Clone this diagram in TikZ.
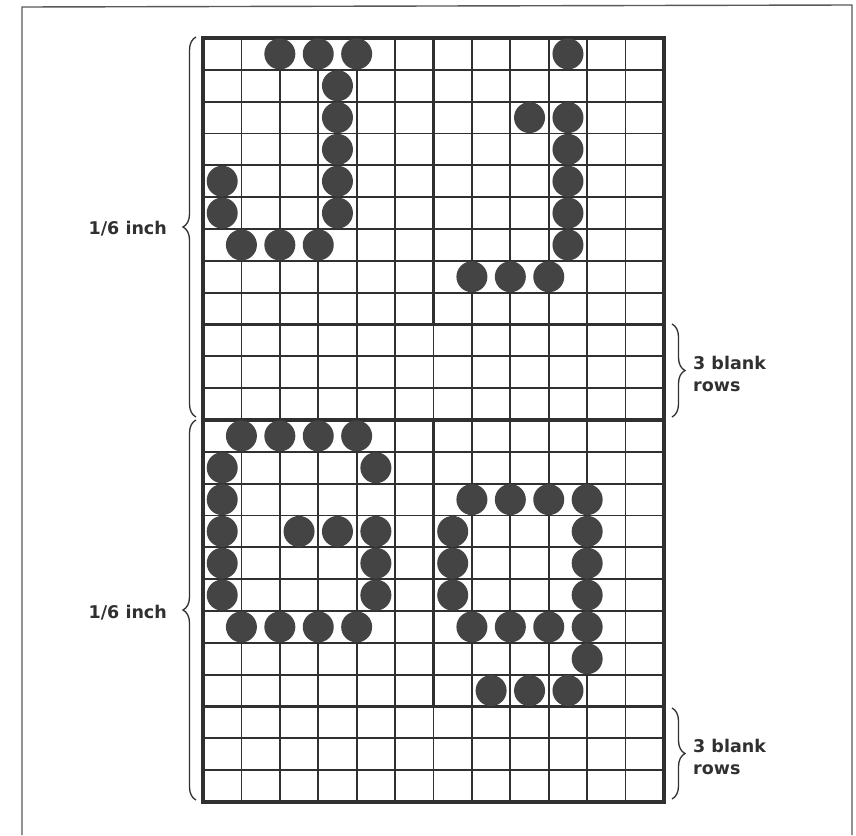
\documentclass[tikz,border=0pt]{standalone}
\usepackage{fontspec}
\setmainfont{DejaVu Sans}
\usetikzlibrary{decorations.pathreplacing}
\definecolor{ink}{HTML}{303030}
\definecolor{dotc}{HTML}{444444}
\tikzset{
  thinline/.style={draw=ink, line width=1.7pt},
  thickline/.style={draw=ink, line width=3.4pt},
  framel/.style={draw=ink!80, line width=1.4pt},
  bracel/.style={draw=ink, line width=1.3pt, decorate, decoration={brace, amplitude=13pt}},
  lab/.style={font=\bfseries\fontsize{17.5}{22}\selectfont, text=ink, inner sep=0pt, align=left},
  dotn/.style={circle, fill=dotc, minimum size=31pt, inner sep=0pt, draw=none}
}
\begin{document}
\begin{tikzpicture}[x=1pt,y=-1pt]
\useasboundingbox (0,0) rectangle (856,835);
\fill[white] (0,0) rectangle (856,835);
% outer frame of the page figure
\draw[framel] (22,835) -- (22,7) -- (852,5) -- (852,835);
% grid geometry
\def\gx{203}\def\gy{38}\def\cw{38.4167}\def\rh{31.8333}
% thin lines
\foreach \i in {1,...,11} \draw[thinline] ({\gx+\i*\cw},\gy) -- ({\gx+\i*\cw},802);
\foreach \j in {1,...,23} \draw[thinline] (\gx,{\gy+\j*\rh}) -- (664,{\gy+\j*\rh});
% thick lines
\foreach \j in {9,12,21} \draw[thickline] (\gx,{\gy+\j*\rh}) -- (664,{\gy+\j*\rh});
\draw[thickline] ({\gx+6*\cw},\gy) -- ({\gx+6*\cw},{\gy+9*\rh});
\draw[thickline] ({\gx+6*\cw},{\gy+12*\rh}) -- ({\gx+6*\cw},{\gy+21*\rh});
\draw[thickline] (\gx,\gy) rectangle (664,802);
% dots
\foreach \c/\r in {2/0,3/0,4/0,9.5/0,
  3.5/1,
  3.5/2,8.5/2,9.5/2,
  3.5/3,9.5/3,
  0.5/4,3.5/4,9.5/4,
  0.5/5,3.5/5,9.5/5,
  1/6,2/6,3/6,9.5/6,
  7/7,8/7,9/7,
  1/12,2/12,3/12,4/12,
  0.5/13,4.5/13,
  0.5/14,7/14,8/14,9/14,10/14,
  0.5/15,2.5/15,3.5/15,4.5/15,6.5/15,10/15,
  0.5/16,4.5/16,6.5/16,10/16,
  0.5/17,4.5/17,6.5/17,10/17,
  1/18,2/18,3/18,4/18,7/18,8/18,9/18,10/18,
  10/19,
  7.5/20,8.5/20,9.5/20}
  \node[dotn] at ({\gx+\c*\cw},{\gy+(\r+0.5)*\rh}) {};
% braces
\draw[bracel] (196,417) -- (196,37);
\draw[bracel] (196,800) -- (196,420);
\draw[bracel] (672,324) -- (672,417);
\draw[bracel] (672,708) -- (672,799);
% labels
\node[lab, anchor=east] (inchA) at (167,229) {1/6 inch};
\node[lab, anchor=east] (inchB) at (167,613) {1/6 inch};
\node[lab, anchor=west] (blankA) at (693,374) {3 blank\\rows};
\node[lab, anchor=west] (blankB) at (693,757) {3 blank\\rows};
\end{tikzpicture}
\end{document}
